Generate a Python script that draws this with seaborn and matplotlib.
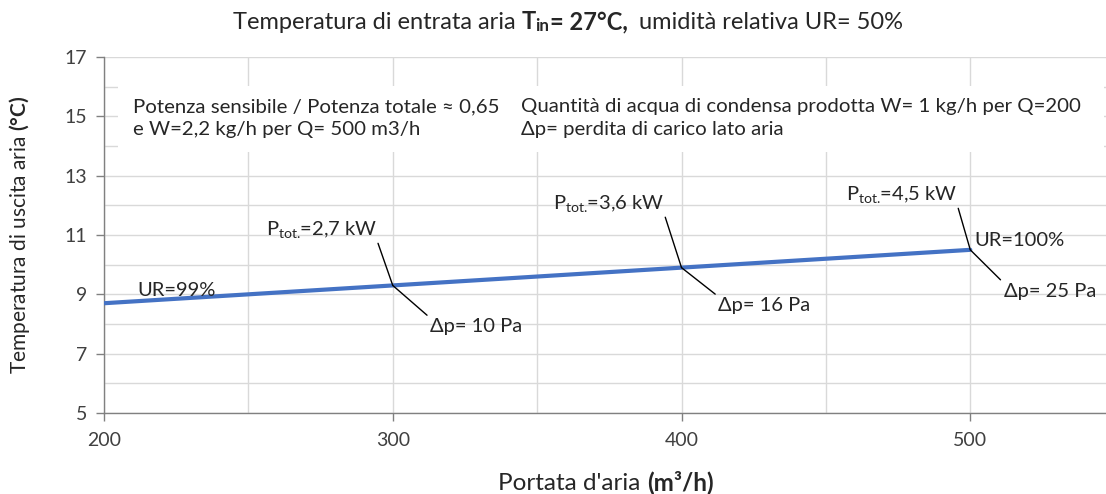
import numpy as np
import pandas as pd
import matplotlib
matplotlib.use("Agg")
import matplotlib.pyplot as plt
import seaborn as sns
from matplotlib.patches import Rectangle

# --- DATI ---
portata = [200, 300, 400, 500]
t_uscita = [8.7, 9.3, 9.9, 10.5]

ptot_labels = ["2,7", "3,6", "4,5"]
ptot_x = [300, 400, 500]
dp_labels = ["10", "16", "25"]

# title pieces: (text, weight, size factor, dy in px)
title_parts = [("Temperatura di entrata aria ", "normal", 1.0, 0),
               ("T", "bold", 1.0, 0),
               ("in", "bold", 0.72, -2),
               ("= 27°C,", "bold", 1.0, 0),
               ("  umidità relativa UR= 50%", "normal", 1.0, 0)]
xlabel_parts = [("Portata d'aria ", "normal", 1.0, 0), ("(m³/h)", "bold", 1.0, 0)]
ylabel_txt = r"Temperatura di uscita aria $\mathbf{(°C)}$"
box_left = "Potenza sensibile / Potenza totale ≈ 0,65\ne W=2,2 kg/h per Q= 500 m3/h"
box_right = "Quantità di acqua di condensa prodotta W= 1 kg/h per Q=200\nΔp= perdita di carico lato aria"

sns.set_style("white")
plt.rcParams.update({
    "font.family": ["Lato", "DejaVu Sans"],
    "mathtext.fontset": "custom",
    "mathtext.rm": "Lato",
    "mathtext.it": "Lato",
    "mathtext.bf": "Lato:bold",
})

W, H = 1106, 494
fig = plt.figure(figsize=(W / 100, H / 100), dpi=100)
ax = fig.add_axes([104 / W, 81 / H, 1 - 104 / W, 356 / H])

df = pd.DataFrame({"Q": portata, "T": t_uscita})
sns.lineplot(data=df, x="Q", y="T", color="#4472C4", lw=3.0, ax=ax, zorder=4)

ax.set_xlim(200, 547)
ax.set_ylim(5, 17)
ax.set_xticks([200, 300, 400, 500])
ax.set_xticks(np.arange(250, 550, 100), minor=True)
ax.set_yticks(np.arange(5, 18, 2))
ax.set_yticks(np.arange(6, 17, 2), minor=True)
ax.grid(True, which="both", color="#d9d9d9", lw=1.0, zorder=0)
ax.set_axisbelow(True)

for s in ["top", "right"]:
    ax.spines[s].set_visible(False)
for s in ["left", "bottom"]:
    ax.spines[s].set_color("#808080")
    ax.spines[s].set_linewidth(1.0)
ax.tick_params(which="major", length=6, width=1, color="#808080", bottom=True, left=True,
               labelsize=14, labelcolor="#404040", direction="out")
ax.tick_params(which="minor", length=0)
ax.tick_params(axis="x", pad=8)
ax.tick_params(axis="y", pad=6)

ax.set_xlabel("")
ax.set_ylabel(ylabel_txt, fontsize=15, color="#262626")
ax.yaxis.set_label_coords(-72 / 1002, 0.5)


def row_text(parts, cx, cy, size):
    # write pieces of text in a row, centred on (cx, cy) in pixels
    fig.canvas.draw()
    r = fig.canvas.get_renderer()
    objs, widths = [], []
    for s, wgt, f, dy in parts:
        t = fig.text(0, 0, s, fontsize=size * f, fontweight=wgt, color="#262626",
                     ha="left", va="baseline")
        widths.append(t.get_window_extent(r).width)
        objs.append((t, dy))
    x = cx - sum(widths) / 2
    for (t, dy), w in zip(objs, widths):
        t.set_position((x / W, (H - cy + dy) / H))
        x += w


row_text(title_parts, 568, 29, 17)
row_text(xlabel_parts, 606, 490, 17.5)

# riquadro note
ax.add_patch(Rectangle((14 / 1002, (H - 152 - 81) / 356), 986 / 1002, 66 / 356,
                       transform=ax.transAxes, facecolor="white", edgecolor="none", zorder=3))
ax.text((133 - 104) / 1002, (H - 118 - 81) / 356, box_left, transform=ax.transAxes,
        fontsize=14.7, color="#262626", va="center", ha="left", linespacing=1.4, zorder=5)
ax.text((521 - 104) / 1002, (H - 118 - 81) / 356, box_right, transform=ax.transAxes,
        fontsize=14.7, color="#262626", va="center", ha="left", linespacing=1.4, zorder=5)

# etichette
txt = dict(fontsize=14.5, color="#262626", zorder=6)
arr = dict(arrowstyle="-", color="black", lw=1.0, shrinkA=0, shrinkB=0)
ptot_pos = [(294.5, 10.83), (394.0, 11.71), (495.5, 12.01)]
dp_pos = [(313.0, 8.2), (412.8, 8.92), (511.6, 9.38)]
for i, xq in enumerate(ptot_x):
    yq = t_uscita[portata.index(xq)]
    ax.annotate(r"P$_{\mathrm{tot.}}\!$=" + ptot_labels[i] + " kW", xy=(xq, yq),
                xytext=ptot_pos[i], ha="right", va="bottom",
                arrowprops=dict(arr, relpos=(1, 0)), **txt)
    ax.annotate("Δp= " + dp_labels[i] + " Pa", xy=(xq, yq),
                xytext=dp_pos[i], ha="left", va="top",
                arrowprops=dict(arr, relpos=(0, 1)), **txt)

ax.text(211.5, 9.12, "UR=99%", ha="left", va="center", **txt)
ax.text(501.5, 10.83, "UR=100%", ha="left", va="center", **txt)

fig.savefig("out.png", dpi=100)
